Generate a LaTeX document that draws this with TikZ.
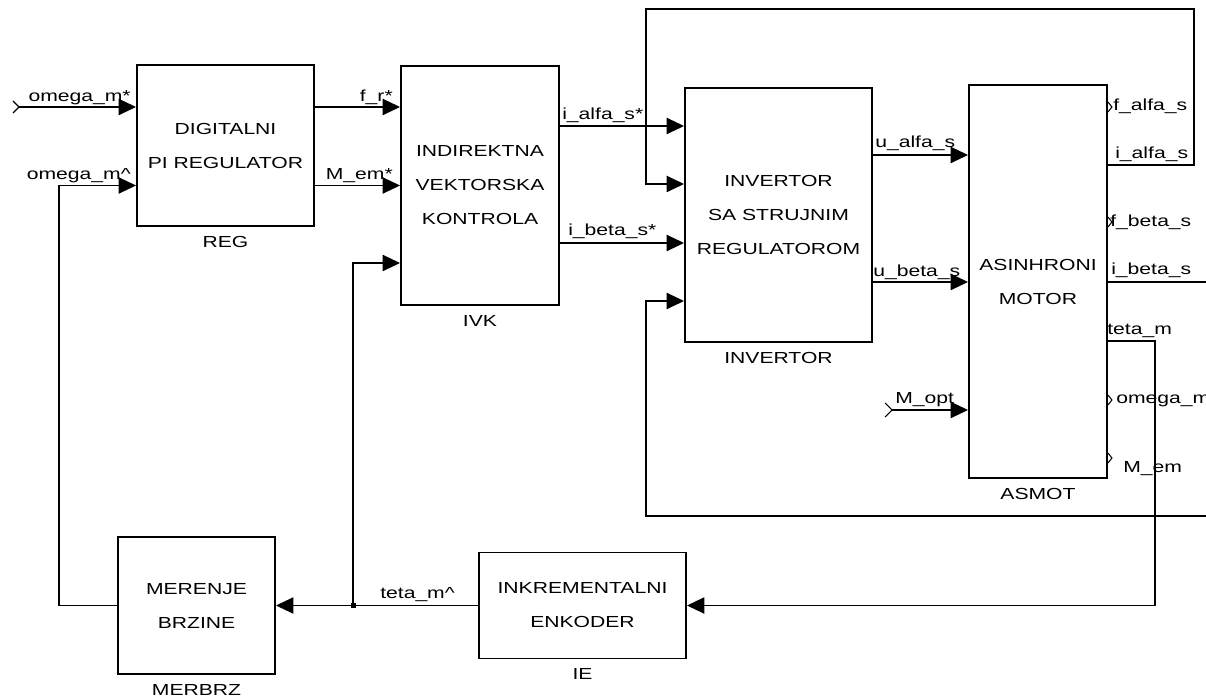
\documentclass[tikz,border=0pt]{standalone}
\usepackage{fontspec}
\setmainfont{Liberation Sans}[FakeStretch=1.32]
\usetikzlibrary{arrows.meta,positioning,calc}

\begin{document}
\begin{tikzpicture}[x=0.75pt, y=-0.75pt, >={Triangle[length=13pt,width=12pt]}, every node/.style={font=\fontsize{12}{25.5}\selectfont}, blk/.style={draw,line width=1.4pt,align=center,inner sep=0pt}, sig/.style={line width=1.4pt}, port/.style={line width=0.8pt}, lbl/.style={inner sep=0pt}]
\clip (0,0) rectangle (1206,698);
\node[blk,minimum width=132.75pt,minimum height=120.75pt](reg) at (225.5,145.5){DIGITALNI\\PI REGULATOR};
\node[blk,minimum width=118.5pt,minimum height=179.25pt](ivk) at (480,185.5){INDIREKTNA\\VEKTORSKA\\KONTROLA};
\node[blk,minimum width=140.25pt,minimum height=190.5pt](inv) at (778.5,215){INVERTOR\\SA STRUJNIM\\REGULATOROM};
\node[blk,minimum width=103.5pt,minimum height=294.75pt](asmot) at (1038,281.5){ASINHRONI\\MOTOR};
\node[blk,minimum width=117.75pt,minimum height=102.75pt](merbrz) at (196.5,605.5){MERENJE\\BRZINE};
\node[blk,minimum width=155.25pt,minimum height=79.5pt](ie) at (582.5,605.5){INKREMENTALNI\\ENKODER};
\node[below=3.5pt of reg](regname){REG};
\node[below=3.5pt of ivk](ivkname){IVK};
\node[below=3.5pt of inv](invname){INVERTOR};
\node[below=3.5pt of asmot](asmotname){ASMOT};
\node[below=3.5pt of merbrz](merbrzname){MERBRZ};
\node[below=3.5pt of ie](iename){IE};
% ports and free ends
\coordinate (wref) at (19,107);
\coordinate (mopt) at (892,410);
\coordinate (jn) at (353,605.5);
\coordinate (cut1) at (1206,282);
\coordinate (cut2) at (1206,516);
\draw[port] (wref) ++(-6,-6) -- (wref) -- ++(-6,6);
\draw[port] (mopt) ++(-7,-7) -- (mopt) -- ++(-7,7);
\foreach \yy in {107,222,400,458} \draw[port] (asmot.east |- 0,\yy) ++(0,-5) -- ++(4,5) -- ++(-4,5);
% signals
\draw[sig,->] (wref) -- (wref -| reg.west);
\draw[sig,->] (reg.east |- wref) -- (ivk.west |- wref);
\draw[sig,->] (reg.east |- ivk.west) -- (ivk.west);
\draw[sig,->] (merbrz.west) -- ++(-58,0) |- (reg.west |- ivk.west);
\draw[sig,->] (ivk.east |- 0,126) -- (inv.west |- 0,126);
\draw[sig,->] (ivk.east |- 0,243) -- (inv.west |- 0,243);
\draw[sig,->] (asmot.east |- 0,165) -| (1194,9) -| (646,184) -- (inv.west |- 0,184);
\draw[sig,->] (cut2) -| (646,301) -- (inv.west |- 0,301);
\draw[sig] (asmot.east |- cut1) -- (cut1);
\draw[sig,->] (inv.east |- 0,155) -- (asmot.west |- 0,155);
\draw[sig,->] (inv.east |- cut1) -- (asmot.west |- cut1);
\draw[sig,->] (mopt) -- (asmot.west |- mopt);
\draw[sig,->] (asmot.east |- 0,341) -- ++(47,0) |- (ie.east);
\draw[sig,->] (ie.west) -- (merbrz.east);
\draw[sig,->] (jn) |- (ivk.west |- 0,263);
\fill (jn) +(-2.5,-2.5) rectangle +(2.5,2.5);
% signal names
\node[lbl,anchor=base east](lwref) at (131,102){omega\_m*};
\node[lbl,anchor=base east](lwhat) at (131,180){omega\_m\textasciicircum};
\node[lbl,anchor=base east](lfr) at (393,102){f\_r*};
\node[lbl,anchor=base east](lmem) at (393,180){M\_em*};
\node[lbl,anchor=base west](lias) at (562,120){i\_alfa\_s*};
\node[lbl,anchor=base west](libs) at (568,236){i\_beta\_s*};
\node[lbl,anchor=base west](lua) at (875,148){u\_alfa\_s};
\node[lbl,anchor=base west](lub) at (873,277){u\_beta\_s};
\node[lbl,anchor=base west](lmopt) at (895,403){M\_opt};
\node[lbl,anchor=base west](lfa) at (1113,111){f\_alfa\_s};
\node[lbl,anchor=base west](lia) at (1115,159){i\_alfa\_s};
\node[lbl,anchor=base west](lfb) at (1110,227){f\_beta\_s};
\node[lbl,anchor=base west](lib) at (1111,275){i\_beta\_s};
\node[lbl,anchor=base west](ltm) at (1107,335){teta\_m};
\node[lbl,anchor=base west](lom) at (1116,403){omega\_m};
\node[lbl,anchor=base west](lme) at (1123,472){M\_em};
\node[lbl,anchor=base west](ltmh) at (380,598){teta\_m\textasciicircum};
\end{tikzpicture}
\end{document}
